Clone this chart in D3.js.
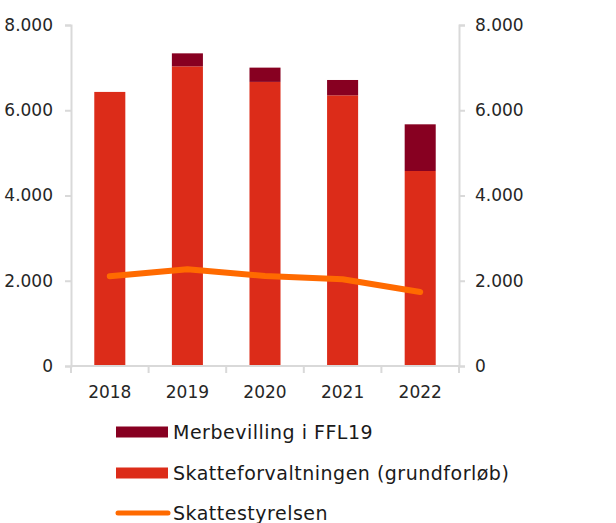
<!DOCTYPE html>
<html>
<head>
<meta charset="utf-8">
<script src="https://cdn.jsdelivr.net/npm/d3@7"></script>
<style>
  body { margin: 0; background: #fff; }
  svg text { font-family: "DejaVu Sans", sans-serif; fill: #1a1a1a; }
</style>
</head>
<body>
<div id="chart"></div>
<script>
// Data
const years = ["2018", "2019", "2020", "2021", "2022"];
const grundforlob = [6430, 7030, 6665, 6350, 4575];
const merbevilling = [0, 305, 335, 360, 1095];
const styrelsen = [2105, 2270, 2110, 2035, 1735];
const yTicks = [0, 2000, 4000, 6000, 8000];

const W = 616, H = 523;
const margin = { top: 25, right: 157, bottom: 157, left: 71 };
const width = W - margin.left - margin.right;
const height = H - margin.top - margin.bottom;

const svg = d3.select("#chart")
    .append("svg")
    .attr("width", W)
    .attr("height", H);

const g = svg.append("g")
    .attr("transform", `translate(${margin.left},${margin.top})`);

// Scales
const x = d3.scaleBand()
    .domain(years)
    .range([0, width])
    .paddingInner(0.6)
    .paddingOuter(0.3);

const y = d3.scaleLinear()
    .domain([0, 8000])
    .range([height, 0]);

const fmt = d => d3.format(",")(d).replace(/,/g, ".");
const axisColor = "#d9d9d9";

// Left axis
const yLeft = g.append("g")
    .call(d3.axisLeft(y).tickValues(yTicks).tickFormat(fmt).tickSizeOuter(0).tickSize(6).tickPadding(12));
// Right axis
const yRight = g.append("g")
    .attr("transform", `translate(${width},0)`)
    .call(d3.axisRight(y).tickValues(yTicks).tickFormat(fmt).tickSizeOuter(0).tickSize(6).tickPadding(10));

[yLeft, yRight].forEach(a => {
    a.select(".domain").attr("stroke", axisColor).attr("stroke-width", 2);
    a.selectAll(".tick line").attr("stroke", axisColor).attr("stroke-width", 2);
    a.selectAll(".tick text").style("font-size", "17px").style("fill", "#262626");
});

// Bars
const stackData = years.map((yr, i) => ({ year: yr, base: grundforlob[i], extra: merbevilling[i] }));

g.selectAll(".bar-base")
    .data(stackData)
    .enter()
    .append("rect")
    .attr("class", "bar-base")
    .attr("x", d => x(d.year))
    .attr("y", d => y(d.base))
    .attr("width", x.bandwidth())
    .attr("height", d => height - y(d.base))
    .attr("fill", "#dc2c19");

g.selectAll(".bar-extra")
    .data(stackData.filter(d => d.extra > 0))
    .enter()
    .append("rect")
    .attr("class", "bar-extra")
    .attr("x", d => x(d.year))
    .attr("y", d => y(d.base + d.extra))
    .attr("width", x.bandwidth())
    .attr("height", d => y(d.base) - y(d.base + d.extra))
    .attr("fill", "#870021");

// Bottom axis (ticks at category boundaries)
const xAxisG = g.append("g").attr("transform", `translate(0,${height})`);
xAxisG.append("line")
    .attr("x1", 0).attr("x2", width)
    .attr("stroke", axisColor).attr("stroke-width", 2);
const bounds = d3.range(years.length + 1).map(i => i * width / years.length);
xAxisG.selectAll(".xtick")
    .data(bounds)
    .enter()
    .append("line")
    .attr("x1", d => d).attr("x2", d => d)
    .attr("y1", 0).attr("y2", 7)
    .attr("stroke", axisColor).attr("stroke-width", 2);
xAxisG.selectAll(".xlabel")
    .data(years)
    .enter()
    .append("text")
    .attr("x", d => x(d) + x.bandwidth() / 2)
    .attr("y", 32)
    .attr("text-anchor", "middle")
    .style("font-size", "17px")
    .style("fill", "#262626")
    .text(d => d);

// Line
const line = d3.line()
    .x((d, i) => x(years[i]) + x.bandwidth() / 2)
    .y(d => y(d));

g.append("path")
    .datum(styrelsen)
    .attr("fill", "none")
    .attr("stroke", "#ff6a00")
    .attr("stroke-width", 6)
    .attr("stroke-linecap", "round")
    .attr("stroke-linejoin", "round")
    .attr("d", line);

// Legend
const legend = svg.append("g").attr("transform", "translate(116,0)");
const items = [
    { label: "Merbevilling i FFL19", color: "#870021", type: "rect", cy: 432 },
    { label: "Skatteforvaltningen (grundforløb)", color: "#dc2c19", type: "rect", cy: 473 },
    { label: "Skattestyrelsen", color: "#ff6a00", type: "line", cy: 513 }
];
items.forEach(it => {
    if (it.type === "rect") {
        legend.append("rect")
            .attr("x", 0).attr("y", it.cy - 5.5)
            .attr("width", 52).attr("height", 11)
            .attr("fill", it.color);
    } else {
        legend.append("line")
            .attr("x1", 2).attr("x2", 52)
            .attr("y1", it.cy).attr("y2", it.cy)
            .attr("stroke", it.color).attr("stroke-width", 5)
            .attr("stroke-linecap", "round");
    }
    legend.append("text")
        .attr("x", 57)
        .attr("y", it.cy)
        .attr("dy", "0.35em")
        .style("font-size", "19px")
        .style("letter-spacing", "0.5px")
        .text(it.label);
});
</script>
</body>
</html>
